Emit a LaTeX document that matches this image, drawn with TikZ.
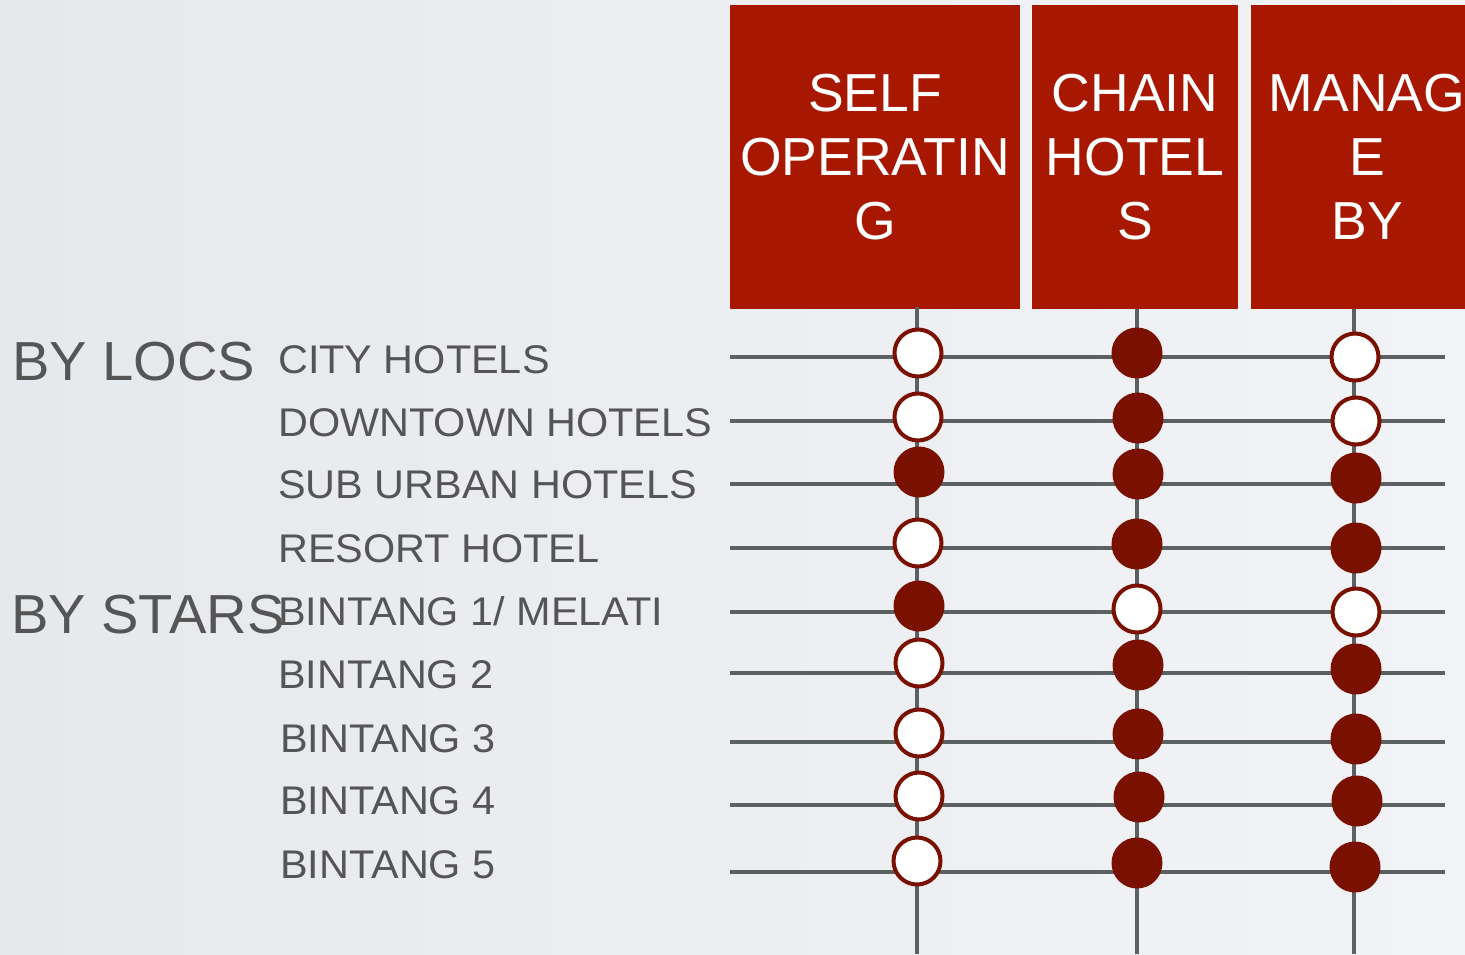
\documentclass[tikz,border=0pt]{standalone}
\usepackage{fontspec}
\setmainfont{Liberation Sans}
\newfontfamily\lblfont[FakeStretch=1.035]{Liberation Sans}
\newfontfamily\grpfont[FakeStretch=1.02]{Liberation Sans}
\definecolor{bgA}{HTML}{E6E9EC}
\definecolor{bgB}{HTML}{F2F3F7}
\definecolor{hdrred}{HTML}{A81800}
\definecolor{dotred}{HTML}{7A1000}
\definecolor{gridgray}{HTML}{5B6061}
\definecolor{txtgray}{HTML}{555555}
\tikzset{
  hdr/.style={fill=hdrred, inner sep=0pt, text=white, align=center,
    font=\fontsize{53.5}{64}\selectfont, minimum height=304pt},
  rowlabel/.style={anchor=base west, inner sep=0pt, text=txtgray,
    font=\lblfont\fontsize{40}{48}\selectfont},
  grouplabel/.style={anchor=base west, inner sep=0pt, text=txtgray,
    font=\grpfont\fontsize{55}{66}\selectfont},
  hline/.style={draw=gridgray, line width=4pt},
  vline/.style={draw=gridgray, line width=3.3pt},
  full/.style={circle, fill=dotred, minimum size=51pt, inner sep=0pt},
  hollow/.style={circle, fill=white, draw=dotred, line width=4pt, minimum size=47pt, inner sep=0pt}
}
\begin{document}
\begin{tikzpicture}[x=1pt,y=-1pt]
\useasboundingbox (0,0) rectangle (1465,954);
\clip (0,0) rectangle (1465,954);
\shade[left color=bgA, right color=bgB] (0,0) rectangle (1465,954);

% headers
\node[hdr, minimum width=290pt] (h1) at (875,157) {SELF\\OPERATIN\\G};
\node[hdr, minimum width=206pt] (h2) at (1135,157) {CHAIN\\HOTEL\\S};
\node[hdr, minimum width=232pt] (h3) at (1367,157) {MANAG\\E\\BY};

% left labels
\node[grouplabel] (gl1) at (12,380) {BY LOCS};
\node[grouplabel] (gl2) at (11,633) {BY STARS};
\node[rowlabel] (r1) at (278,373) {CITY HOTELS};
\node[rowlabel] (r2) at (278,436) {DOWNTOWN HOTELS};
\node[rowlabel] (r3) at (278,498) {SUB URBAN HOTELS};
\node[rowlabel] (r4) at (278,562) {RESORT HOTEL};
\node[rowlabel] (r5) at (278,625) {BINTANG 1/ MELATI};
\node[rowlabel] (r6) at (278,688) {BINTANG 2};
\node[rowlabel] (r7) at (280,752) {BINTANG 3};
\node[rowlabel] (r8) at (280,814) {BINTANG 4};
\node[rowlabel] (r9) at (280,878) {BINTANG 5};

% grid end points
\foreach \i/\y in {1/357,2/421,3/484,4/548,5/612,6/673,7/742,8/805,9/872}{
  \coordinate (L\i) at (730,\y);
  \coordinate (R\i) at (1445,\y);
}
\coordinate (T1) at (917,307); \coordinate (B1) at (917,954);
\coordinate (T2) at (1137,309); \coordinate (B2) at (1137,954);
\coordinate (T3) at (1354,309); \coordinate (B3) at (1354,954);

\foreach \i in {1,...,9}{ \draw[hline] (L\i) -- (R\i); }
\foreach \j in {1,2,3}{ \draw[vline] (T\j) -- (B\j); }

% dots
\node[hollow] (c11) at (918,353) {};
\node[full]   (c12) at (1137,353) {};
\node[hollow] (c13) at (1355,357) {};
\node[hollow] (c21) at (918,417) {};
\node[full]   (c22) at (1138,418) {};
\node[hollow] (c23) at (1356,421) {};
\node[full]   (c31) at (919,472) {};
\node[full]   (c32) at (1138,474) {};
\node[full]   (c33) at (1356,478) {};
\node[hollow] (c41) at (918,543) {};
\node[full]   (c42) at (1137,544) {};
\node[full]   (c43) at (1356,548) {};
\node[full]   (c51) at (919,606) {};
\node[hollow] (c52) at (1137,609) {};
\node[hollow] (c53) at (1356,612) {};
\node[hollow] (c61) at (919,663) {};
\node[full]   (c62) at (1138,665) {};
\node[full]   (c63) at (1356,669) {};
\node[hollow] (c71) at (919,733) {};
\node[full]   (c72) at (1138,734) {};
\node[full]   (c73) at (1356,739) {};
\node[hollow] (c81) at (919,796) {};
\node[full]   (c82) at (1139,797) {};
\node[full]   (c83) at (1357,801) {};
\node[hollow] (c91) at (917,861) {};
\node[full]   (c92) at (1137,863) {};
\node[full]   (c93) at (1355,867) {};
\end{tikzpicture}
\end{document}
